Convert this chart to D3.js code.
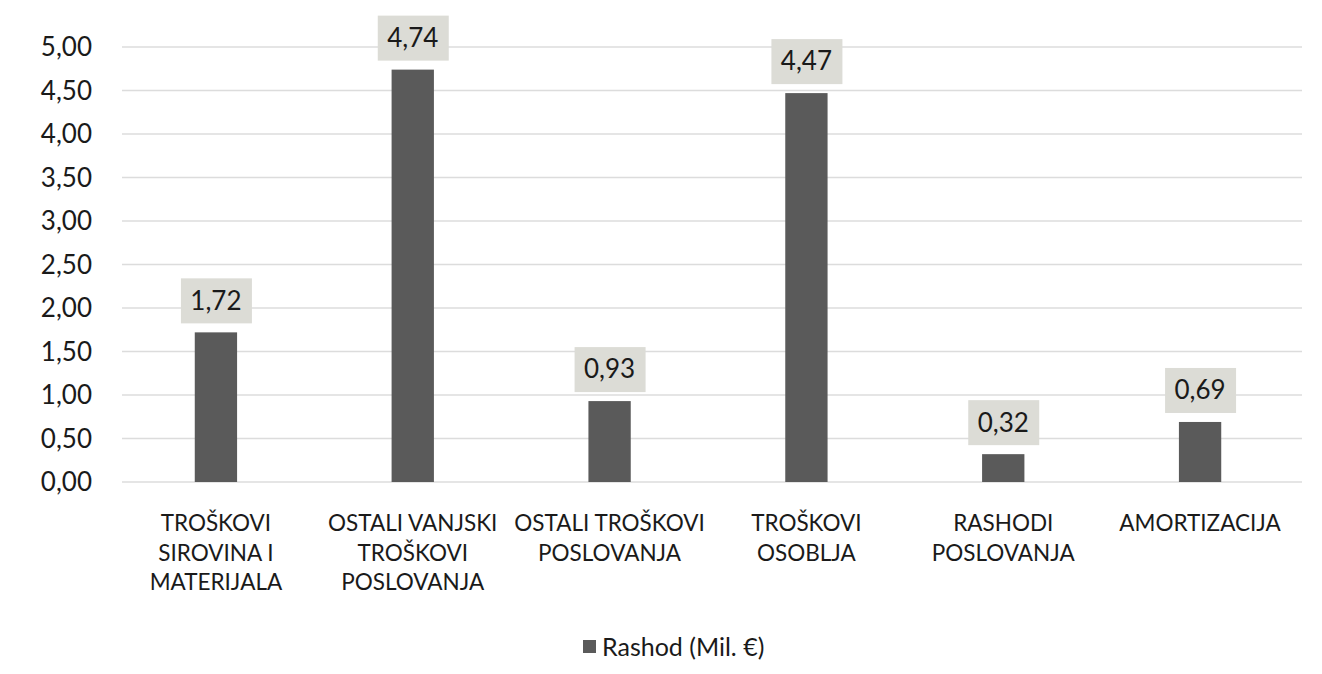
<!DOCTYPE html>
<meta charset="utf-8">
<script src="https://cdn.jsdelivr.net/npm/d3@7"></script>
<style>
body { margin: 0; background: #fff; }
svg text { font-family: Lato, "Open Sans", sans-serif; fill: #1a1a1a; }
.grid line { stroke: #dcdcdc; stroke-width: 1.5px; }
.bar { fill: #5a5a5a; }
.lblbox { fill: #dcdcd6; }
</style>
<svg width="1322" height="674"></svg>
<script>

// data
var categories = [
  ["TROŠKOVI", "SIROVINA I", "MATERIJALA"],
  ["OSTALI VANJSKI", "TROŠKOVI", "POSLOVANJA"],
  ["OSTALI TROŠKOVI", "POSLOVANJA"],
  ["TROŠKOVI", "OSOBLJA"],
  ["RASHODI", "POSLOVANJA"],
  ["AMORTIZACIJA"]
];
var values = [1.72, 4.74, 0.93, 4.47, 0.32, 0.69];
var yTicks = [0, 0.5, 1, 1.5, 2, 2.5, 3, 3.5, 4, 4.5, 5];
var seriesName = "Rashod (Mil. €)";

var svg = d3.select("svg");
var plotLeft = 122, plotRight = 1302, plotTop = 47, plotBottom = 482;

// bands sit a few px left of the gridline span, like in the original
var x = d3.scaleBand()
    .domain(d3.range(values.length))
    .range([plotLeft - 4, plotRight - 4])
    .paddingInner(0.785)
    .paddingOuter(0.39);

var y = d3.scaleLinear().domain([0, 5]).range([plotBottom, plotTop]);

var fmt = function(v) { return d3.format(".2f")(v).replace(".", ","); };

// gridlines
svg.append("g").attr("class", "grid")
  .selectAll("line")
  .data(yTicks)
  .enter().append("line")
    .attr("x1", plotLeft).attr("x2", plotRight)
    .attr("y1", function(d) { return y(d); })
    .attr("y2", function(d) { return y(d); });

// y axis labels
svg.append("g")
  .selectAll("text")
  .data(yTicks)
  .enter().append("text")
    .attr("x", 92)
    .attr("y", function(d) { return y(d); })
    .attr("dy", "0.36em")
    .attr("text-anchor", "end")
    .style("font-size", "26px")
    .text(fmt);

// bars
svg.append("g")
  .selectAll("rect")
  .data(values)
  .enter().append("rect")
    .attr("class", "bar")
    .attr("x", function(d, i) { return x(i); })
    .attr("width", x.bandwidth())
    .attr("y", function(d) { return y(d); })
    .attr("height", function(d) { return y(0) - y(d); });

// value labels with boxes
var lab = svg.append("g")
  .selectAll("g")
  .data(values)
  .enter().append("g")
    .attr("transform", function(d, i) {
      return "translate(" + (x(i) + x.bandwidth() / 2) + "," + (y(d) - 32) + ")";
    });

lab.append("rect")
    .attr("class", "lblbox")
    .attr("x", -35).attr("y", -22)
    .attr("width", 71).attr("height", 45);

lab.append("text")
    .attr("text-anchor", "middle")
    .attr("dy", "0.36em")
    .style("font-size", "26px")
    .text(fmt);

// category labels
var cat = svg.append("g")
  .selectAll("text")
  .data(categories)
  .enter().append("text")
    .attr("text-anchor", "middle")
    .style("font-size", "22.5px")
    .attr("x", function(d, i) { return x(i) + x.bandwidth() / 2; });

cat.selectAll("tspan")
  .data(function(d) { return d; })
  .enter().append("tspan")
    .attr("x", function() { return d3.select(this.parentNode).attr("x"); })
    .attr("y", function(d, j) { return 531 + j * 29.5; })
    .text(function(d) { return d; });

// legend
var leg = svg.append("g").attr("transform", "translate(583,647)");
leg.append("rect")
    .attr("class", "bar")
    .attr("x", 0).attr("y", -7)
    .attr("width", 13).attr("height", 13);
leg.append("text")
    .attr("x", 19)
    .attr("dy", "0.36em")
    .style("font-size", "25px")
    .text(seriesName);

</script>
